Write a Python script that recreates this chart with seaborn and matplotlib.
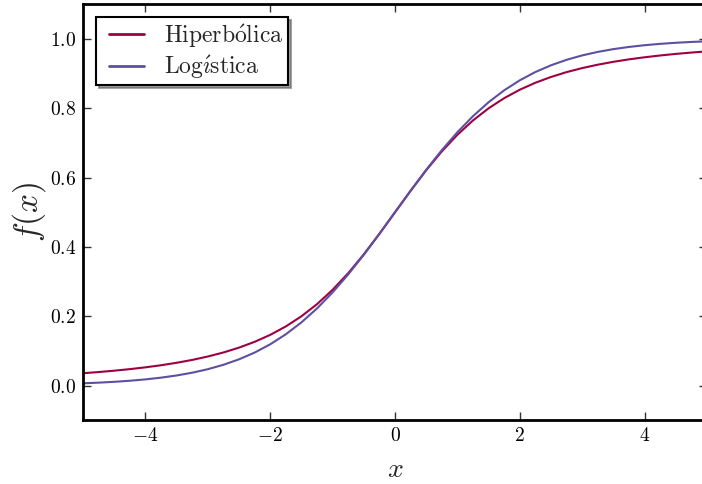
import numpy as np
import pandas as pd
import matplotlib
matplotlib.use("Agg")
import matplotlib.pyplot as plt
import seaborn as sns
from matplotlib.ticker import FuncFormatter, FixedLocator

# Values (x from -5 to 5, step 0.25)
x_vals = [-5.0, -4.75, -4.5, -4.25, -4.0, -3.75, -3.5, -3.25, -3.0, -2.75, -2.5,
          -2.25, -2.0, -1.75, -1.5, -1.25, -1.0, -0.75, -0.5, -0.25, 0.0,
          0.25, 0.5, 0.75, 1.0, 1.25, 1.5, 1.75, 2.0, 2.25, 2.5,
          2.75, 3.0, 3.25, 3.5, 3.75, 4.0, 4.25, 4.5, 4.75, 5.0]
hiperbolica = [0.0358, 0.0392, 0.0431, 0.0476, 0.0528, 0.0588, 0.0659, 0.0742,
               0.0840, 0.0956, 0.1096, 0.1263, 0.1464, 0.1707, 0.2000, 0.2350,
               0.2764, 0.3244, 0.3787, 0.4380, 0.5000,
               0.5620, 0.6213, 0.6756, 0.7236, 0.7650, 0.8000, 0.8293, 0.8536,
               0.8737, 0.8904, 0.9044, 0.9160, 0.9258, 0.9341, 0.9412, 0.9472,
               0.9524, 0.9569, 0.9608, 0.9642]
logistica = [0.0067, 0.0086, 0.0110, 0.0141, 0.0180, 0.0230, 0.0293, 0.0373,
             0.0474, 0.0601, 0.0759, 0.0953, 0.1192, 0.1481, 0.1824, 0.2227,
             0.2689, 0.3208, 0.3775, 0.4378, 0.5000,
             0.5622, 0.6225, 0.6792, 0.7311, 0.7773, 0.8176, 0.8519, 0.8808,
             0.9047, 0.9241, 0.9399, 0.9526, 0.9627, 0.9707, 0.9770, 0.9820,
             0.9859, 0.9890, 0.9914, 0.9933]
series_names = ["Hiperbólica", "Logística"]
series_labels = [r"$\mathrm{Hiperb\acute{o}lica}$", r"$\mathrm{Log\acute{\imath}stica}$"]
colors = ["#9e0142", "#5e4fa2"]
x_ticks = [-4, -2, 0, 2, 4]
y_ticks = [0.0, 0.2, 0.4, 0.6, 0.8, 1.0]

df = pd.DataFrame({
    "x": x_vals * 2,
    "y": hiperbolica + logistica,
    "serie": [series_labels[0]] * len(x_vals) + [series_labels[1]] * len(x_vals),
})

sns.set_theme(style="white")
plt.rcParams["mathtext.fontset"] = "cm"
plt.rcParams["font.family"] = ["DejaVu Serif"]

fig = plt.figure(figsize=(7.02, 4.84), dpi=100)
ax = fig.add_axes([83 / 702, (484 - 420.3) / 484, 624 / 702, 416 / 484])

sns.lineplot(data=df, x="x", y="y", hue="serie", palette=colors, ax=ax,
             linewidth=1.5, legend=True)

ax.set_xlim(-5, 5)
ax.set_ylim(-0.1, 1.1)
ax.xaxis.set_major_locator(FixedLocator(x_ticks))
ax.yaxis.set_major_locator(FixedLocator(y_ticks))
ax.xaxis.set_major_formatter(FuncFormatter(lambda v, p: r"$%d$" % v))
ax.yaxis.set_major_formatter(FuncFormatter(lambda v, p: r"$%.1f$" % v))
ax.tick_params(axis="both", which="major", direction="in", length=6, width=1,
               colors="#333333", labelcolor="black", labelsize=14,
               top=True, right=True, bottom=True, left=True, pad=5)
for s in ax.spines.values():
    s.set_color("black")
    s.set_linewidth(2)

ax.set_xlabel(r"$x$", fontsize=20, labelpad=8)
ax.set_ylabel(r"$f(x)$", fontsize=24, labelpad=1)

leg = ax.legend(loc="upper left", frameon=True, shadow=True, fancybox=False,
                fontsize=17, handlelength=1.82, borderpad=0.2,
                bbox_to_anchor=(0.0, 1.0), handletextpad=0.85,
                labelspacing=0.15, borderaxespad=0.55)
leg.get_frame().set_edgecolor("black")
leg.get_frame().set_linewidth(1.5)
for line in leg.get_lines():
    line.set_linewidth(2)
    xd = np.asarray(line.get_xdata(), dtype=float)
    yd = np.asarray(line.get_ydata(), dtype=float)
    x0, x1 = xd.min(), xd.max()
    line.set_data([x0 + (x1 - x0) * 8 / 43, x1], [yd[0], yd[0]])

fig.savefig("out.png", dpi=100)
